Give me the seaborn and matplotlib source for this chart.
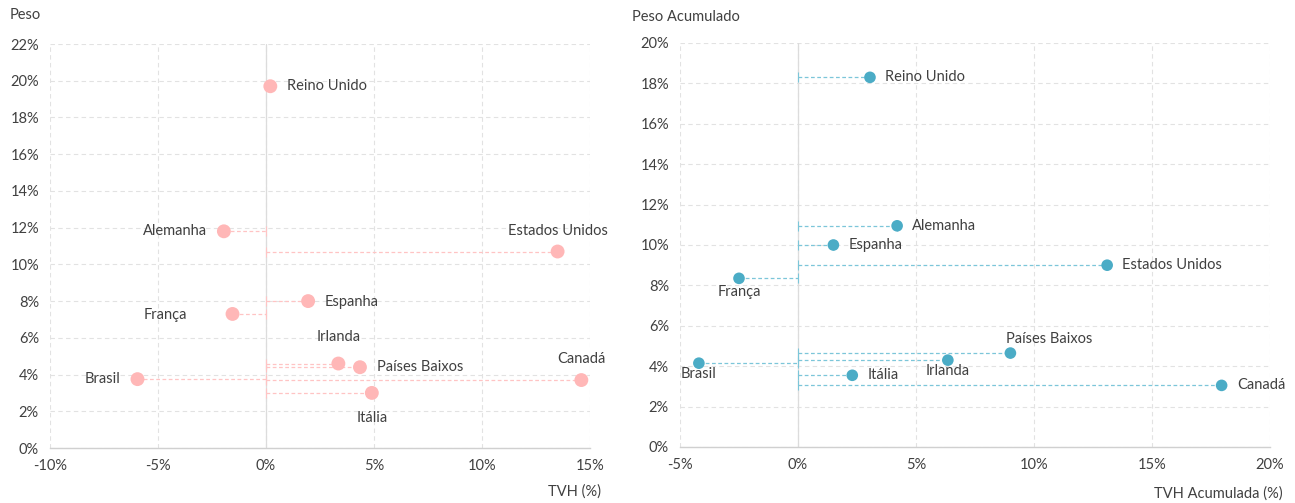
import matplotlib
matplotlib.use("Agg")
import matplotlib.pyplot as plt
import seaborn as sns
import numpy as np
import pandas as pd
from matplotlib.ticker import FuncFormatter, MultipleLocator

# ---------------- data ----------------
countries = ["Reino Unido", "Alemanha", "Estados Unidos", "Espanha", "França",
             "Irlanda", "Países Baixos", "Brasil", "Canadá", "Itália"]
tvh = [0.2, -1.95, 13.5, 1.95, -1.55, 3.35, 4.35, -5.95, 14.6, 4.9]
peso = [19.7, 11.8, 10.7, 8.0, 7.3, 4.6, 4.4, 3.75, 3.7, 3.0]

tvh_acum = [3.05, 4.2, 13.1, 1.5, -2.5, 6.35, 9.0, -4.2, 17.95, 2.3]
peso_acum = [18.3, 10.95, 9.0, 10.0, 8.35, 4.3, 4.65, 4.15, 3.05, 3.55]

xticks_left = [-10, -5, 0, 5, 10, 15]
yticks_left = [0, 2, 4, 6, 8, 10, 12, 14, 16, 18, 20, 22]
xticks_right = [-5, 0, 5, 10, 15, 20]
yticks_right = [0, 2, 4, 6, 8, 10, 12, 14, 16, 18, 20]

# label placement (offset in points, ha, va)
place_left = {
    "Reino Unido": (12, 0, "left", "center"),
    "Alemanha": (-12, 0, "right", "center"),
    "Estados Unidos": (0, 10, "center", "bottom"),
    "Espanha": (12, -1, "left", "center"),
    "França": (-33, -1, "right", "center"),
    "Irlanda": (0, 14, "center", "bottom"),
    "Países Baixos": (12, 0, "left", "center"),
    "Brasil": (-12, 0, "right", "center"),
    "Canadá": (0, 10, "center", "bottom"),
    "Itália": (0, -13, "center", "top"),
}
place_right = {
    "Reino Unido": (11, 0, "left", "center"),
    "Alemanha": (11, 0, "left", "center"),
    "Estados Unidos": (11, 0, "left", "center"),
    "Espanha": (11, 0, "left", "center"),
    "França": (0, -5, "center", "top"),
    "Irlanda": (0, -3, "center", "top"),
    "Países Baixos": (-3, 5, "left", "bottom"),
    "Brasil": (0, -3, "center", "top"),
    "Itália": (11, 0, "left", "center"),
    "Canadá": (11, 0, "left", "center"),
}

df_l = pd.DataFrame({"pais": countries, "x": tvh, "y": peso})
df_r = pd.DataFrame({"pais": countries, "x": tvh_acum, "y": peso_acum})

sns.set_theme(style="white")
plt.rcParams["font.family"] = ["Lato", "DejaVu Sans"]
TXT = "#404040"

fig = plt.figure(figsize=(12.95, 5.03), dpi=100)
ax1 = fig.add_axes([50 / 1295, 55 / 503, 540 / 1295, 404 / 503])
ax2 = fig.add_axes([680 / 1295, 56 / 503, 590 / 1295, 404 / 503])

pct = FuncFormatter(lambda v, p: f"{v:.0f}%")


def style_axis(ax, xt, yt, xlab, ylab, xlab_xy, ylab_xy):
    ax.set_xlim(xt[0], xt[-1])
    ax.set_ylim(yt[0], yt[-1])
    ax.set_xticks(xt)
    ax.set_yticks(yt)
    ax.xaxis.set_major_formatter(pct)
    ax.yaxis.set_major_formatter(pct)
    ax.grid(True, linestyle=(0, (4, 3)), color="#e2e2e2", linewidth=0.8)
    for s in ["top", "right", "left"]:
        ax.spines[s].set_visible(False)
    ax.spines["bottom"].set_color("#d0d0d0")
    ax.spines["bottom"].set_linewidth(1.0)
    ax.tick_params(axis="both", colors=TXT, labelsize=10.5, length=0, pad=8)
    ax.axvline(0, color="#dcdcdc", linewidth=0.9, zorder=1)
    ax.set_xlabel("")
    ax.set_ylabel("")
    fig.text(xlab_xy[0], xlab_xy[1], xlab, ha="right", va="center", color=TXT, fontsize=10.5)
    fig.text(ylab_xy[0], ylab_xy[1], ylab, ha="left", va="center", color=TXT, fontsize=10.5)


def draw(ax, df, color, line_color, size, place):
    for _, r in df.iterrows():
        x, y = r["x"], r["y"]
        if x >= 0:
            err = [[x], [0]]
        else:
            err = [[0], [-x]]
        eb = ax.errorbar(x, y, xerr=err, fmt="none", ecolor=line_color, elinewidth=0.9,
                         capsize=3.5, capthick=0.8, zorder=2)
        eb[2][0].set_linestyle((0, (3, 2)))
    sns.scatterplot(data=df, x="x", y="y", ax=ax, color=color, s=size,
                    edgecolor="none", zorder=3, legend=False)
    for _, r in df.iterrows():
        dx, dy, ha, va = place[r["pais"]]
        ax.annotate(r["pais"], (r["x"], r["y"]), xytext=(dx, dy), textcoords="offset points",
                    ha=ha, va=va, fontsize=10.5, color=TXT, zorder=4)


draw(ax1, df_l, "#FFB7B7", "#FFC4C4", 100, place_left)
draw(ax2, df_r, "#4BACC6", "#7CC6D9", 70, place_right)

style_axis(ax1, xticks_left, yticks_left, "TVH (%)", "Peso",
           (601 / 1295, 1 - 492 / 503), (10 / 1295, 1 - 15 / 503))
style_axis(ax2, xticks_right, yticks_right, "TVH Acumulada (%)", "Peso Acumulado",
           (1283 / 1295, 1 - 494 / 503), (632 / 1295, 1 - 17 / 503))

fig.savefig("out.png", dpi=100)
